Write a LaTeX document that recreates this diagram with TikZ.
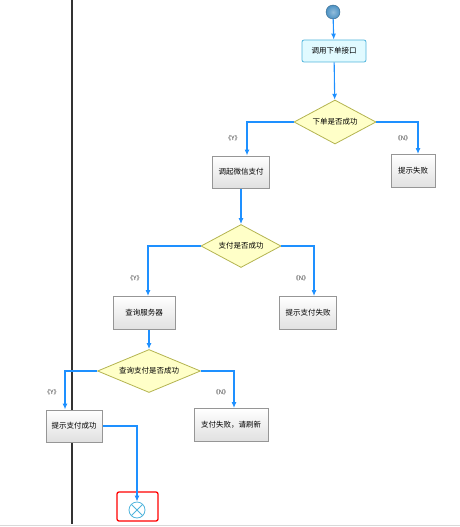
\documentclass[tikz,border=0pt]{standalone}
\usepackage{fontspec}
\setmainfont{Noto Sans CJK SC}
\usepackage{tikz}
\usetikzlibrary{shapes.geometric, arrows.meta, positioning}

\definecolor{flowblue}{RGB}{30,144,255}
\definecolor{startblue}{RGB}{75,145,195}
\definecolor{cyanfill}{RGB}{225,250,255}
\definecolor{cyanline}{RGB}{80,180,220}
\definecolor{diafill}{RGB}{255,255,200}
\definecolor{dialine}{RGB}{180,180,80}
\definecolor{boxline}{RGB}{150,150,150}

\begin{document}
\begin{tikzpicture}[x=1pt, y=-1pt]
	
	\tikzset{actbox/.style={
			draw=boxline, line width=1pt,
			top color=white, bottom color=black!12,
			inner sep=0pt, align=center,
			font=\fontsize{7.5}{9}\selectfont
		},
		callbox/.style={
			draw=cyanline, line width=0.8pt, rounded corners=2pt,
			fill=cyanfill, inner sep=0pt,
			font=\fontsize{7.5}{9}\selectfont
		},
		decision/.style={
			diamond, shape aspect=2, draw=dialine, line width=0.8pt,
			fill=diafill, inner sep=0pt,
			font=\fontsize{7.5}{9}\selectfont
		},
		flow/.style={
			draw=flowblue, line width=1.1pt,
			-{Latex[length=6pt,width=5pt]}
		},
		guard/.style={font=\fontsize{6}{7}\selectfont, text=black!80, inner sep=0pt}
	}
	
	\useasboundingbox (0,0) rectangle (460,527);
	
	% swimlane
	\draw[black!80, line width=1.2pt] (72,0) -- (72,524);
	\draw[black!15, line width=1pt] (0,525) -- (460,525);
	
	\node[circle, minimum size=14pt, inner sep=0pt, draw=startblue!70!black, line width=0.4pt,
		inner color=startblue!60!white, outer color=startblue] (start) at (333,12) {};
	\node[callbox, minimum width=64pt, minimum height=22pt] (order) at (334,51) {调用下单接口};
	\node[decision, minimum width=82pt, minimum height=44pt] (ordok) at (335,122) {下单是否成功};
	\node[actbox, minimum width=57pt, minimum height=32pt] (wxpay) at (241,172) {调起微信支付};
	\node[actbox, minimum width=44pt, minimum height=33pt] (ordfail) at (413,171) {提示失败};
	\node[decision, minimum width=80pt, minimum height=43pt] (payok) at (241,246) {支付是否成功};
	\node[actbox, minimum width=62pt, minimum height=33pt] (query) at (144,313) {查询服务器};
	\node[actbox, minimum width=57pt, minimum height=33pt] (payfail) at (308,313) {提示支付失败};
	\node[decision, minimum width=103pt, minimum height=43pt] (qryok) at (149,371) {查询支付是否成功};
	\node[actbox, minimum width=56pt, minimum height=32pt] (paydone) at (74,426) {提示支付成功};
	\node[actbox, minimum width=74pt, minimum height=33pt] (refresh) at (231,425) {支付失败，请刷新};
	\node[circle, draw=cyanline, line width=0.8pt, minimum size=16pt, inner sep=0pt,
		path picture={\draw[cyanline, line width=0.8pt]
			(path picture bounding box.south west) -- (path picture bounding box.north east)
			(path picture bounding box.north west) -- (path picture bounding box.south east);}] (final) at (137,510) {};
	\node[draw=red, line width=1.3pt, rounded corners=2pt, minimum width=41pt, minimum height=29pt] (mark) at (137.5,506.5) {};
	
	% guards
	\node[guard] (y1) at (233,138) {《Y》};
	\node[guard] (n1) at (403,138) {《N》};
	\node[guard] (y2) at (135,278) {《Y》};
	\node[guard] (n2) at (301,278) {《N》};
	\node[guard] (y3) at (52,392) {《Y》};
	\node[guard] (n3) at (221,392) {《N》};
	
	% transitions
	\draw[flow] (start) -- (order);
	\draw[flow] (order) -- (ordok);
	\draw[flow] (ordok.west) -| ([xshift=6pt]wxpay.north);
	\draw[flow] (ordok.east) -| ([xshift=5pt]ordfail.north);
	\draw[flow] (payok.north |- wxpay.south) -- (payok.north);
	\draw[flow] (payok.west) -| ([xshift=4pt]query.north);
	\draw[flow] (payok.east) -| ([xshift=6pt]payfail.north);
	\draw[flow] (qryok.north |- query.south) -- (qryok.north);
	\draw[flow] (qryok.west) -| ([xshift=-9pt]paydone.north);
	\draw[flow] (qryok.east) -| ([xshift=3pt]refresh.north);
	\draw[flow] (paydone.east) -| (final.north);
	
\end{tikzpicture}
\end{document}
